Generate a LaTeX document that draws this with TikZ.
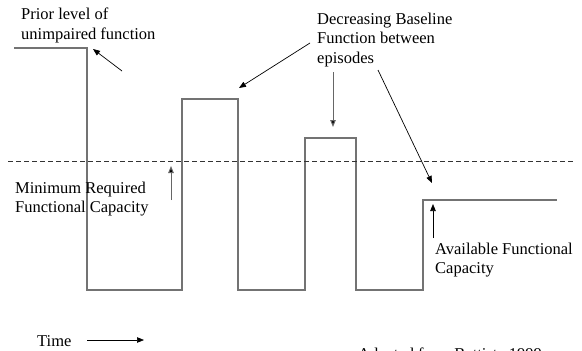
\documentclass[tikz,border=0pt]{standalone}
\usepackage{fontspec}
\setmainfont{Liberation Serif}
\usetikzlibrary{arrows.meta}
\tikzset{
  txt/.style={inner sep=0pt, align=left, font=\fontsize{16.5}{19.5}\selectfont},
  curve/.style={draw=black!55, line width=1.1pt},
  thresh/.style={draw=black!80, line width=0.9pt, dash pattern=on 5pt off 3pt},
  ptr/.style={draw=black, line width=0.7pt, -{Triangle[length=7pt,width=5.5pt]}},
  ptrg/.style={draw=black!60, line width=1pt, -{Triangle[length=7pt,width=5.5pt,fill=black]}}
}
\begin{document}
\begin{tikzpicture}[x=1pt,y=-1pt]
\useasboundingbox (0,0) rectangle (582,351);
% step function
\draw[curve] (14,48) -- (87,48) -- (87,290) -- (182,290) -- (182,99) -- (238,99) -- (238,290)
  -- (305,290) -- (305,138) -- (356,138) -- (356,290) -- (423,290) -- (423,200) -- (557,200);
% threshold
\draw[thresh] (8,161) -- (575,161);
% texts
\node[txt, anchor=north west] (prior) at (21,7.7) {Prior level of\\unimpaired function};
\node[txt, anchor=north west] (decr) at (317,12.5) {Decreasing Baseline\\Function between\\episodes};
\node[txt, anchor=north west] (mini) at (15,181.5) {Minimum Required\\Functional Capacity};
\node[txt, anchor=north west] (avail) at (435,242.5) {Available Functional\\Capacity};
\node[txt, anchor=base west] (time) at (37,346) {Time};
\node[txt, anchor=base west] (adapt) at (358,359) {Adapted from Battista 1999};
% arrow coordinates
\coordinate (a1s) at (122,71);  \coordinate (a1e) at (93,49);
\coordinate (a2s) at (310,43);  \coordinate (a2e) at (239,88);
\coordinate (a3s) at (333,72);  \coordinate (a3e) at (333,127);
\coordinate (a4s) at (378,70);  \coordinate (a4e) at (432,183);
\coordinate (a5s) at (171,200); \coordinate (a5e) at (171,166);
\coordinate (a6s) at (433,238); \coordinate (a6e) at (433,204);
\coordinate (a7s) at (87,340);  \coordinate (a7e) at (144,340);
\draw[ptr] (a1s) -- (a1e);
\draw[ptr] (a2s) -- (a2e);
\draw[ptrg] (a3s) -- (a3e);
\draw[ptr] (a4s) -- (a4e);
\draw[ptrg] (a5s) -- (a5e);
\draw[ptr] (a6s) -- (a6e);
\draw[ptr] (a7s) -- (a7e);
\end{tikzpicture}
\end{document}
